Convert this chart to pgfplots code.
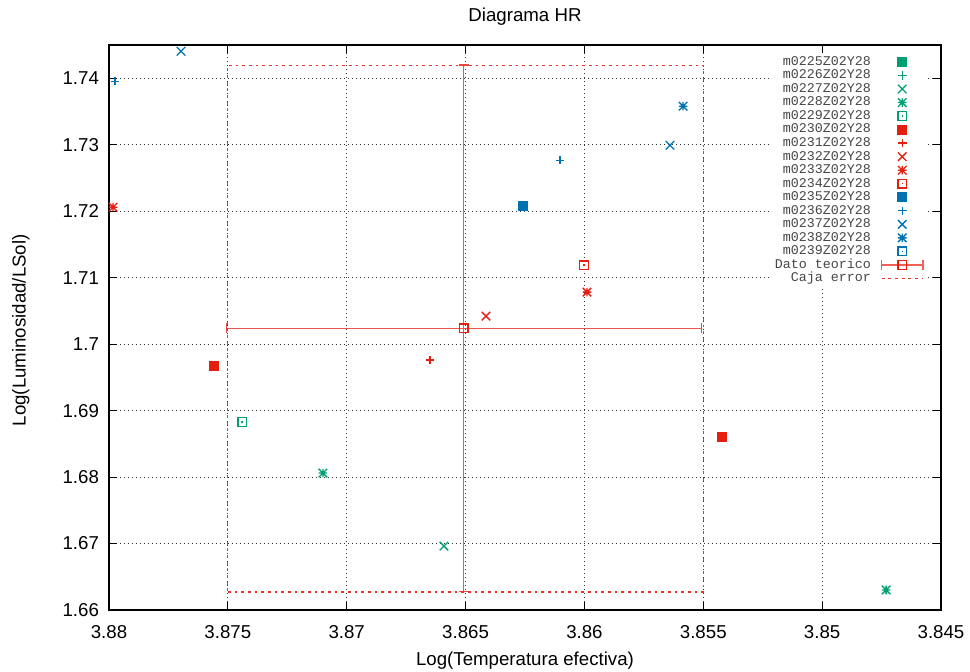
\documentclass[border=0pt]{standalone}
\usepackage{pgfplots}
\pgfplotsset{compat=1.18}
\usepackage{fontspec}
\setmainfont{Liberation Sans}
\newfontfamily\keyfont{Liberation Mono}

\definecolor{gpgreen}{HTML}{009E73}
\definecolor{gpred}{HTML}{E51E10}
\definecolor{gpblue}{HTML}{0072B2}

% gnuplot-like point types
\pgfdeclareplotmark{gpplus}{%
  \pgfpathmoveto{\pgfqpoint{-\pgfplotmarksize}{0pt}}%
  \pgfpathlineto{\pgfqpoint{\pgfplotmarksize}{0pt}}%
  \pgfpathmoveto{\pgfqpoint{0pt}{-\pgfplotmarksize}}%
  \pgfpathlineto{\pgfqpoint{0pt}{\pgfplotmarksize}}%
  \pgfusepathqstroke}
\pgfdeclareplotmark{gpcross}{%
  \pgfpathmoveto{\pgfqpoint{-\pgfplotmarksize}{-\pgfplotmarksize}}%
  \pgfpathlineto{\pgfqpoint{\pgfplotmarksize}{\pgfplotmarksize}}%
  \pgfpathmoveto{\pgfqpoint{-\pgfplotmarksize}{\pgfplotmarksize}}%
  \pgfpathlineto{\pgfqpoint{\pgfplotmarksize}{-\pgfplotmarksize}}%
  \pgfusepathqstroke}
\pgfdeclareplotmark{gpstar}{%
  \pgfpathmoveto{\pgfqpoint{-\pgfplotmarksize}{0pt}}%
  \pgfpathlineto{\pgfqpoint{\pgfplotmarksize}{0pt}}%
  \pgfpathmoveto{\pgfqpoint{0pt}{-\pgfplotmarksize}}%
  \pgfpathlineto{\pgfqpoint{0pt}{\pgfplotmarksize}}%
  \pgfpathmoveto{\pgfqpoint{-\pgfplotmarksize}{-\pgfplotmarksize}}%
  \pgfpathlineto{\pgfqpoint{\pgfplotmarksize}{\pgfplotmarksize}}%
  \pgfpathmoveto{\pgfqpoint{-\pgfplotmarksize}{\pgfplotmarksize}}%
  \pgfpathlineto{\pgfqpoint{\pgfplotmarksize}{-\pgfplotmarksize}}%
  \pgfusepathqstroke}
\pgfdeclareplotmark{gpboxdot}{%
  \pgfpathrectangle{\pgfqpoint{-\pgfplotmarksize}{-\pgfplotmarksize}}%
                   {\pgfqpoint{2\pgfplotmarksize}{2\pgfplotmarksize}}%
  \pgfusepathqstroke
  \pgfpathrectangle{\pgfqpoint{-0.5pt}{-0.5pt}}{\pgfqpoint{1pt}{1pt}}%
  \pgfusepathqfill}

\pgfplotsset{
  gp/.style={only marks, mark size=3.2pt, line width=1pt, mark options={solid}},
}

\begin{document}
\begin{tikzpicture}
\useasboundingbox (0,0) rectangle (727.5pt,503.25pt);
\begin{axis}[
  at={(81.75pt,45.75pt)}, anchor=south west,
  scale only axis, width=624pt, height=423.75pt,
  x dir=reverse,
  xmin=3.845, xmax=3.88, ymin=1.66, ymax=1.745,
  xtick={3.845,3.85,...,3.881}, ytick={1.66,1.67,...,1.741},
  scaled ticks=false,
  /pgf/number format/.cd, fixed, precision=3, assume math mode=true, /pgfplots/.cd,
  tick label style={font=\fontsize{14}{16}\selectfont},
  xticklabel style={yshift=-8pt},
  yticklabel style={xshift=-4pt},
  tick align=inside, major tick length=6pt,
  tick style={black, line width=0.8pt},
  axis line style={black, line width=1pt},
  grid=major,
  major grid style={black!80, line width=0.7pt, dash pattern=on 0.8pt off 2.2pt},
  every axis title shift=0pt,
  title={Diagrama HR},
  title style={at={(axis description cs:0.5,1.0496)}, anchor=center, font=\fontsize{14}{16}\selectfont},
  xlabel={Log(Temperatura efectiva)},
  xlabel style={at={(axis description cs:0.5,-0.089)}, anchor=center, font=\fontsize{14}{16}\selectfont},
  ylabel={Log(Luminosidad/LSol)},
  ylabel style={at={(axis description cs:-0.106,0.495)}, anchor=center, font=\fontsize{14}{16}\selectfont},
  legend cell align=right,
  legend plot pos=right,
  legend image code/.code={\draw[mark repeat=2,mark phase=2,#1] plot coordinates {(0pt,0pt) (15.5pt,0pt) (31pt,0pt)};},
  legend style={at={(axis description cs:0.9825,0.9858)}, anchor=north east,
    draw=none, fill=white, inner sep=2pt, column sep=7.5pt, row sep=1.15pt,
    font=\keyfont\fontsize{10}{10}\selectfont, text=black!72,
    nodes={inner sep=0pt, text height=7pt, text depth=2pt}},
]

% green group
\addlegendimage{gp, gpgreen, mark=square*}
\addlegendentry{m0225Z02Y28}
\addlegendimage{gp, gpgreen, mark=gpplus}
\addlegendentry{m0226Z02Y28}
\addplot[gp, gpgreen, mark=gpcross] coordinates {(3.86591,1.66962)};
\addlegendentry{m0227Z02Y28}
\addplot[gp, gpgreen, mark=gpstar] coordinates {(3.87100,1.68060) (3.84731,1.66301)};
\addlegendentry{m0228Z02Y28}
\addplot[gp, gpgreen, mark=gpboxdot] coordinates {(3.87440,1.68827)};
\addlegendentry{m0229Z02Y28}

% red group
\addplot[gp, gpred, mark=square*] coordinates {(3.87558,1.69669) (3.85421,1.68602)};
\addlegendentry{m0230Z02Y28}
\addplot[gp, gpred, mark=gpplus] coordinates {(3.86650,1.69759)};
\addlegendentry{m0231Z02Y28}
\addplot[gp, gpred, mark=gpcross] coordinates {(3.86414,1.70421)};
\addlegendentry{m0232Z02Y28}
\addplot[gp, gpred, mark=gpstar] coordinates {(3.87983,1.72060) (3.85989,1.70782)};
\addlegendentry{m0233Z02Y28}
\addplot[gp, gpred, mark=gpboxdot] coordinates {(3.86002,1.71188)};
\addlegendentry{m0234Z02Y28}

% blue group
\addplot[gp, gpblue, mark=square*] coordinates {(3.86258,1.72075)};
\addlegendentry{m0235Z02Y28}
\addplot[gp, gpblue, mark=gpplus] coordinates {(3.87975,1.73955) (3.86103,1.72767)};
\addlegendentry{m0236Z02Y28}
\addplot[gp, gpblue, mark=gpcross] coordinates {(3.87697,1.74406) (3.85640,1.72992)};
\addlegendentry{m0237Z02Y28}
\addplot[gp, gpblue, mark=gpstar] coordinates {(3.85585,1.73579)};
\addlegendentry{m0238Z02Y28}
\addlegendimage{gp, gpblue, mark=gpboxdot}
\addlegendentry{m0239Z02Y28}

% theoretical point with its error bars
\addplot[gpred, only marks, mark=square, mark size=3.2pt, line width=0.9pt,
  error bars/.cd, x dir=both, x explicit, y dir=both, y explicit,
  error mark=|,
  error mark options={gpred!80, mark size=3.75pt, line width=0.9pt},
  error bar style={gpred!75, line width=1pt},
  /pgfplots/legend image code/.code={%
    \draw[gpred!70, line width=0.9pt] (0pt,0pt) -- (31pt,0pt);
    \draw[gpred!70, line width=0.9pt] (0pt,-3.75pt) -- (0pt,3.75pt);
    \draw[gpred!70, line width=0.9pt] (31pt,-3.75pt) -- (31pt,3.75pt);
    \draw[gpred, line width=0.9pt, mark=square, mark size=3.2pt] plot coordinates {(15.5pt,0pt)};}]
  coordinates {(3.86508,1.7024) +- (0.00999,0.0396)};
\addlegendentry{Dato teorico}

% error box
\addplot[gpred!90, line width=0.9pt, dash pattern=on 2.2pt off 2.8pt]
  coordinates {(3.875,1.6627) (3.855,1.6627) (3.855,1.7419) (3.875,1.7419) (3.875,1.6627)};
\addlegendentry{Caja error}
\end{axis}
\end{tikzpicture}
\end{document}
